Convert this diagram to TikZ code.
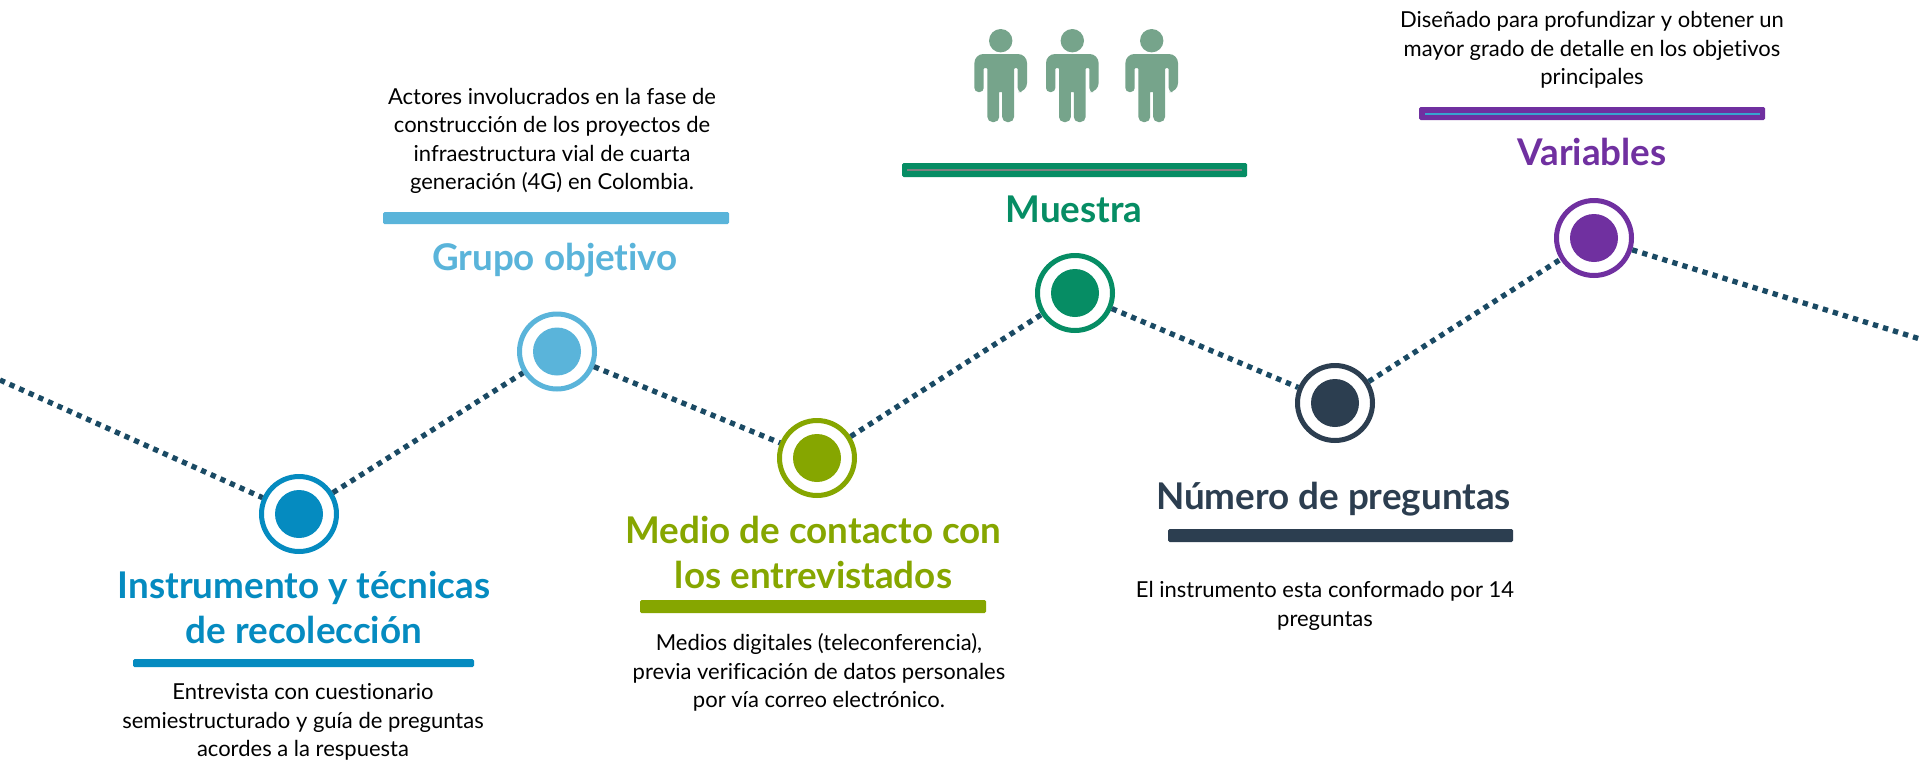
\documentclass[tikz,border=0pt]{standalone}
\usepackage{fontspec}
\setmainfont{Lato}[Ligatures=NoCommon]
\definecolor{cBlue}{HTML}{058BC0}
\definecolor{cSky}{HTML}{5AB4DA}
\definecolor{cOlive}{HTML}{86A600}
\definecolor{cTeal}{HTML}{068D64}
\definecolor{cNavy}{HTML}{2C3E50}
\definecolor{cPurple}{HTML}{7030A0}
\definecolor{cPerson}{HTML}{76A48B}
\definecolor{cLine}{HTML}{1A4A64}
\tikzset{
  ring/.style={circle,draw=#1,line width=5pt,fill=white,minimum size=75pt,inner sep=0pt},
  core/.style={circle,fill=#1,minimum size=48pt,inner sep=0pt},
  dotline/.style={draw=cLine,line width=5.3pt,dash pattern=on 5.3pt off 5.2pt},
  head/.style={text=#1,font=\fontsize{36.8}{45}\selectfont\bfseries,align=center,inner sep=0pt},
  body/.style={text=black,font=\fontsize{22}{28.5}\selectfont,align=center,inner sep=0pt},
  barline/.style={fill=#1,rounded corners=1.5pt},
}
\newcommand{\personfig}[1]{%
  \begin{scope}[shift={(#1,0)}]
    \fill[cPerson] (0,40.7) circle (11.7);
    \fill[cPerson,rounded corners=2pt]
      (-26.3,92) -- (-26.3,65) [rounded corners=9pt] -- (-26.3,54) -- (26.3,54) -- (26.3,92)
      [rounded corners=4pt] -- (17,92) [rounded corners=1pt] -- (17,68) -- (13.3,68)
      [rounded corners=5pt] -- (13.3,122) -- (1.5,122) [rounded corners=0.5pt] -- (1.5,92) -- (-1.5,92)
      [rounded corners=5pt] -- (-1.5,122) -- (-13.3,122) [rounded corners=1pt] -- (-13.3,68) -- (-17,68)
      [rounded corners=4pt] -- (-17,92) -- cycle;
  \end{scope}}
\begin{document}
\begin{tikzpicture}[x=1pt,y=-1pt]
\useasboundingbox[fill=white] (0,0) rectangle (1920,761);
% ring nodes
\node[ring=cBlue]   (n1) at (299,514) {};
\node[ring=cSky]    (n2) at (557,351.5) {};
\node[ring=cOlive]  (n3) at (817,458) {};
\node[ring=cTeal]   (n4) at (1075,293) {};
\node[ring=cNavy]   (n5) at (1335,403) {};
\node[ring=cPurple] (n6) at (1594,238) {};
\node[core=cBlue]   (c1) at (n1) {};
\node[core=cSky]    (c2) at (n2) {};
\node[core=cOlive]  (c3) at (n3) {};
\node[core=cTeal]   (c4) at (n4) {};
\node[core=cNavy]   (c5) at (n5) {};
\node[core=cPurple] (c6) at (n6) {};
\coordinate (startpt) at (0,380);
\coordinate (endpt) at (1920,339);
\draw[dotline] (startpt) -- (n1);
\draw[dotline] (n1) -- (n2);
\draw[dotline] (n2) -- (n3);
\draw[dotline] (n3) -- (n4);
\draw[dotline] (n4) -- (n5);
\draw[dotline] (n5) -- (n6);
\draw[dotline] (n6) -- (endpt);
% bars
\fill[barline=cBlue] (133,659) rectangle (474,667);
\fill[barline=cSky] (383,212) rectangle (729,224);
\fill[barline=cOlive] (640,600) rectangle (986,613);
\fill[barline=cTeal] (902,163) rectangle (1247,177);
\fill[gray] (907,169) rectangle (1242,171);
\fill[barline=cNavy] (1168,529) rectangle (1513,542);
\fill[barline=cPurple] (1419,107) rectangle (1765,120);
\fill[cSky!60!cBlue] (1425,112.5) rectangle (1760,114.5);
% people
\personfig{1000.7}
\personfig{1072.3}
\personfig{1151.7}
% headings
\node[head=cBlue]   (h1) at (304,607) {Instrumento y técnicas\\de recolección};
\node[head=cSky]    (h2) at (555,260) {Grupo objetivo};
\node[head=cOlive]  (h3) at (813.5,552) {Medio de contacto con\\los entrevistados};
\node[head=cTeal]   (h4) at (1074,209.5) {Muestra};
\node[head=cNavy]   (h5) at (1333.5,499) {Número de preguntas};
\node[head=cPurple] (h6) at (1592,152) {Variables};
% bodies
\node[body] (b1) at (303,722) {Entrevista con cuestionario\\semiestructurado y guía de preguntas\\acordes a la respuesta};
\node[body] (b2) at (552,141) {Actores involucrados en la fase de\\construcción de los proyectos de\\infraestructura vial de cuarta\\generación (4G) en Colombia.};
\node[body] (b3) at (819,672.5) {Medios digitales (teleconferencia),\\previa verificación de datos personales\\por vía correo electrónico.};
\node[body] (b5) at (1325,606) {El instrumento esta conformado por 14\\preguntas};
\node[body] (b6) at (1592,50) {Diseñado para profundizar y obtener un\\mayor grado de detalle en los objetivos\\principales};
\end{tikzpicture}
\end{document}
